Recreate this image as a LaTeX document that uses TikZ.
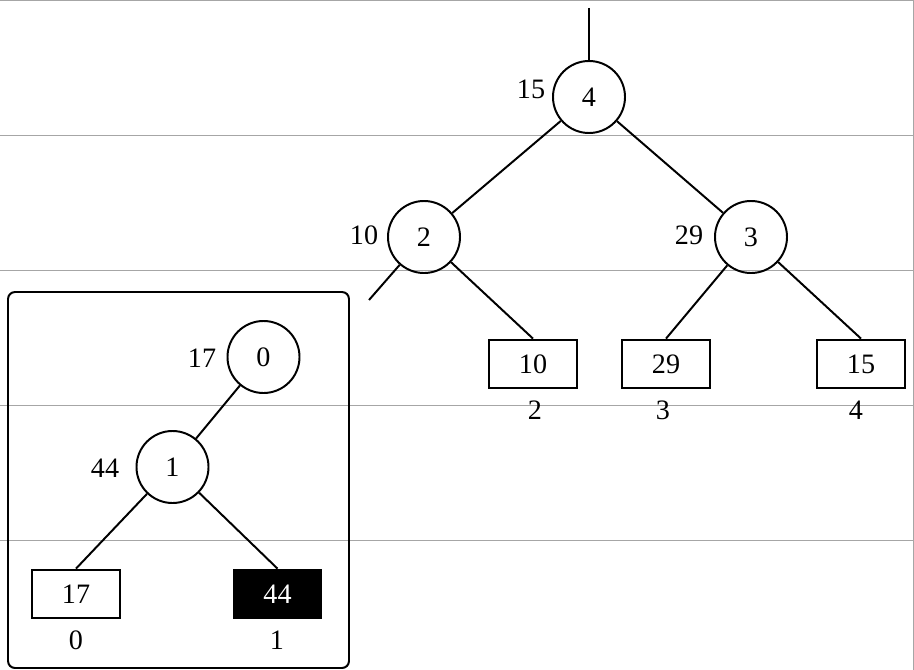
\documentclass[tikz,border=0pt]{standalone}
\usepackage{fontspec}
\setmainfont{Liberation Serif}
\tikzset{
  noeud/.style={draw,circle,line width=1.4pt,minimum size=1.8cm,inner sep=0pt},
  feuille/.style={draw,rectangle,line width=1.4pt,minimum width=2.2cm,minimum height=1.22cm,inner sep=0pt},
  poids/.style={inner sep=0pt},
  branche/.style={line width=1.4pt},
  guide/.style={gray!70,line width=0.6pt}
}
\begin{document}
\begin{tikzpicture}[x=0.025cm, y=-0.025cm, font=\fontsize{20}{24}\selectfont]
  \useasboundingbox (0,0) rectangle (914,670);
  % Lignes grises
  \foreach \y in {135,270,405,540}
    \draw[guide] (0,\y) -- (914,\y);
  \draw[guide] (0,0.5) -- (913.5,0.5) -- (913.5,670);
  % Arbre principal
  \coordinate (haut) at (589,8);
  \node[noeud] (n4) at (589,97) {4};
  \node[poids] (p4) at (531,89) {15};
  \node[noeud] (n2) at (424,237) {2};
  \node[poids] (p2) at (364,235) {10};
  \node[noeud] (n3) at (751,237) {3};
  \node[poids] (p3) at (689,235) {29};
  \coordinate (coupe) at (369,300);
  \node[feuille] (f10) at (533,364) {10};
  \node[feuille] (f29) at (666,364) {29};
  \node[feuille] (f15) at (861,364) {15};
  \node (i2) at (535,410) {2};
  \node (i3) at (663,410) {3};
  \node (i4) at (856,410) {4};
  \draw[branche] (haut) -- (n4);
  \draw[branche] (n4) -- (n2);
  \draw[branche] (n4) -- (n3);
  \draw[branche] (n2) -- (coupe);
  \draw[branche] (n2) -- (f10.north);
  \draw[branche] (n3) -- (f29.north);
  \draw[branche] (n3) -- (f15.north);
  % Cadre de gauche
  \draw[line width=1.4pt, rounded corners=5pt] (8,292) rectangle (349,668);
  \node[noeud] (n0) at (263.5,357) {0};
  \node[poids] (p0) at (202,358) {17};
  \node[noeud] (n1) at (172.5,467) {1};
  \node[poids] (p1) at (105,468) {44};
  \node[feuille] (f17) at (76,594) {17};
  \node[feuille, fill=black, text=white] (f44) at (277.5,594) {44};
  \node (i0) at (76,640) {0};
  \node (i1) at (277,640) {1};
  \draw[branche] (n0) -- (n1);
  \draw[branche] (n1) -- (f17.north);
  \draw[branche] (n1) -- (f44.north);
\end{tikzpicture}
\end{document}
